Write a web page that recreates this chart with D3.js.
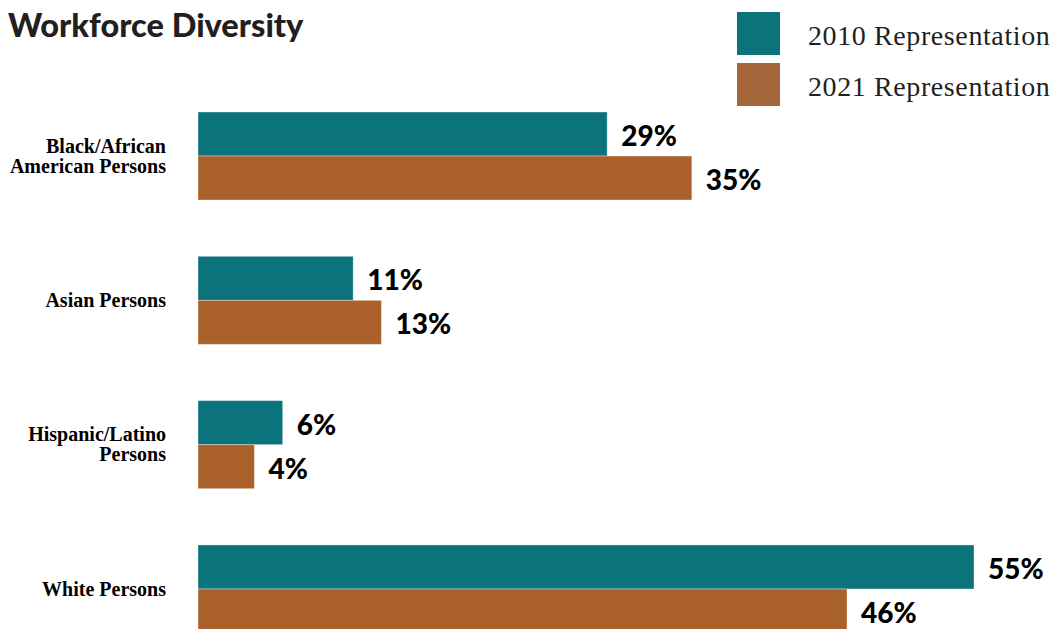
<!DOCTYPE html>
<html><head><meta charset="utf-8">
<script src="https://cdn.jsdelivr.net/npm/d3@7"></script>
<style>body{margin:0;background:#fff}svg{display:block}</style>
</head><body>
<svg id="c" width="1052" height="629"></svg>
<script>
const categories = [["Black/African","American Persons"],["Asian Persons"],["Hispanic/Latino","Persons"],["White Persons"]];
const series = ["2010 Representation","2021 Representation"];
const values2010 = [29, 11, 6, 55];
const values2021 = [35, 13, 4, 46];
const colors = ["#0a737c", "#ab612b"];
const legendColors = ["#0a737c", "#a4663a"];

const svg = d3.select("#c");
const x = d3.scaleLinear().domain([0, 55]).range([198, 974]);
const y = d3.scaleBand().domain(d3.range(categories.length)).range([112, 633]).paddingInner(0.39).paddingOuter(0);
const sub = d3.scaleBand().domain([0,1]).range([0, y.bandwidth()]);

svg.append("text").attr("x", 8).attr("y", 37).text("Workforce Diversity")
  .attr("font-family", "Lato, sans-serif").attr("font-weight", 900).attr("font-size", 32.5).attr("fill", "#231f20");

series.forEach((s, i) => {
  const g = svg.append("g").attr("transform", `translate(737,${12 + i*51})`);
  g.append("rect").attr("width", 43).attr("height", 43).attr("fill", legendColors[i]);
  g.append("text").attr("x", 71).attr("y", 33).text(s)
    .attr("font-family", "Liberation Serif, serif").attr("font-size", 28).attr("letter-spacing", 0.6).attr("fill", "#231f20");
});

const data = categories.map((c, i) => ({c, i, v: [values2010[i], values2021[i]]}));
const groups = svg.selectAll("g.cat").data(data).join("g").attr("class", "cat")
  .attr("transform", d => `translate(0,${y(d.i)})`);

groups.each(function(d) {
  const g = d3.select(this);
  d.v.forEach((v, j) => {
    g.append("rect").attr("x", x(0)).attr("y", sub(j)).attr("width", x(v) - x(0)).attr("height", sub.bandwidth())
      .attr("fill", colors[j]).attr("stroke", "#fff").attr("stroke-opacity", 0.35).attr("stroke-width", 1);
    g.append("text").attr("x", x(v) + 14).attr("y", sub(j) + sub.bandwidth()/2).attr("dy", "0.43em")
      .text(v + "%").attr("font-family", "Lato, sans-serif").attr("font-weight", 900).attr("font-size", 28).attr("fill", "#000");
  });
  const lines = d.c;
  const lh = 20;
  const t = g.append("text").attr("text-anchor", "end")
    .attr("font-family", "Liberation Serif, serif").attr("font-weight", "bold").attr("font-size", 20).attr("fill", "#000");
  lines.forEach((l, k) => {
    t.append("tspan").attr("x", 166)
      .attr("y", y.bandwidth()/2 + (k - (lines.length-1)/2) * lh).attr("dy", "0.33em").text(l);
  });
});
</script>
</body></html>
